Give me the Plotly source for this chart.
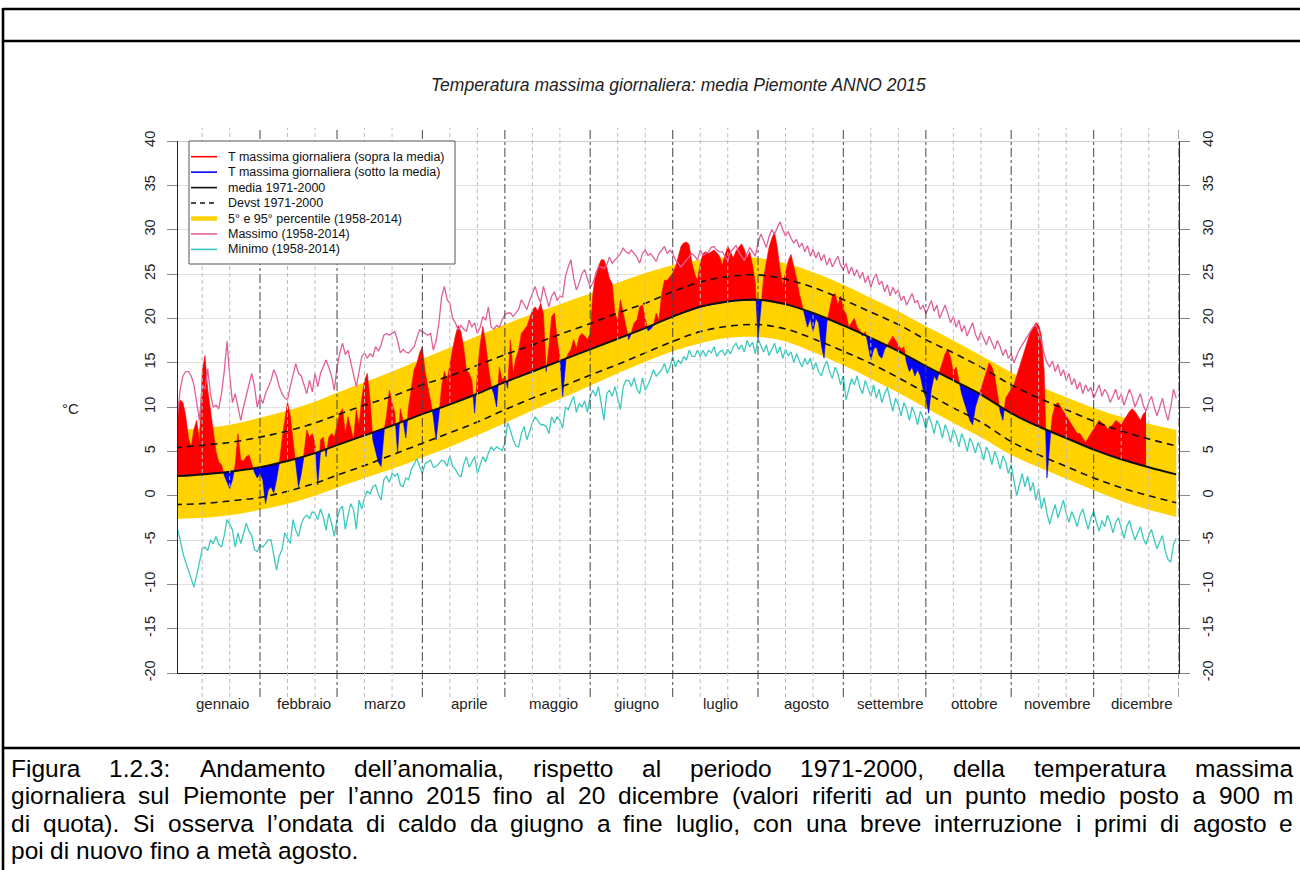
import numpy as np
import plotly.graph_objects as go

# ---------------------------------------------------------------
# Temperatura massima giornaliera, media Piemonte, anno 2015
# ---------------------------------------------------------------

# osservato 2015 (1 gennaio - 20 dicembre), un valore al giorno
tmax_2015 = [
    # gennaio
    8.0, 10.0, 10.8, 10.5, 9.0, 6.5, 5.5, 7.5, 8.5, 6.0, 14.0, 15.8, 12.0, 9.5, 7.0, 5.0,
    3.8, 3.5, 2.3, 1.5, 0.8, 1.8, 3.5, 7.0, 4.0, 3.9, 4.4, 4.6, 3.6, 2.6, 2.0,
    # febbraio
    2.5, 1.8, -0.9, 0.6, 1.0, 0.3, 1.8, 3.6, 6.3, 8.5, 10.6, 9.0, 6.0, 3.6, 1.0, 2.5,
    4.8, 7.4, 6.6, 7.0, 5.9, 1.2, 6.3, 6.6, 4.4, 6.6, 7.0, 6.6,
    # marzo
    7.8, 9.3, 9.8, 7.0, 8.9, 7.5, 6.3, 9.7, 8.0, 11.0, 13.0, 13.8, 10.8, 6.3, 5.0, 3.8,
    3.3, 7.2, 9.0, 11.9, 10.5, 9.3, 4.8, 9.8, 8.5, 6.5, 10.0, 12.0, 14.2, 14.9, 16.1,
    # aprile
    16.8, 14.0, 12.3, 10.8, 8.9, 6.3, 9.0, 12.3, 14.0, 13.0, 15.0, 16.5, 18.0, 19.2, 18.5,
    16.8, 14.2, 13.8, 13.0, 9.3, 13.8, 17.0, 19.1, 17.2, 14.5, 12.3, 11.5, 10.0, 14.5, 13.0,
    # maggio
    13.5, 12.1, 17.6, 13.8, 15.5, 16.4, 18.3, 18.7, 19.1, 20.0, 20.9, 21.3, 20.8, 21.7, 20.5,
    14.0, 16.8, 20.2, 20.6, 17.6, 15.5, 11.2, 15.3, 16.0, 16.5, 17.6, 16.6, 17.9, 18.3, 18.0, 17.6,
    # giugno
    18.3, 22.8, 25.1, 25.8, 26.6, 26.6, 25.8, 24.5, 23.9, 20.5, 19.8, 22.1, 20.5, 19.1, 17.6,
    18.5, 19.5, 19.8, 21.3, 21.5, 19.8, 18.6, 18.8, 19.2, 20.6, 19.8, 22.8, 24.3, 24.3, 24.7,
    # luglio
    25.1, 25.8, 27.0, 28.1, 28.5, 28.6, 28.3, 26.2, 25.0, 24.3, 26.2, 27.3, 27.5, 27.3, 27.5,
    27.7, 27.4, 27.0, 26.0, 27.2, 28.2, 27.5, 26.8, 27.6, 28.0, 28.4, 27.8, 26.8, 27.5, 26.0, 24.0,
    # agosto
    17.6, 21.0, 24.5, 26.5, 28.0, 29.0, 29.7, 28.0, 25.5, 23.8, 25.0, 26.5, 27.2, 26.0, 24.5,
    22.8, 21.5, 20.3, 19.0, 20.0, 18.5, 20.0, 19.5, 17.0, 15.5, 19.5, 21.0, 22.5, 22.8, 21.5, 22.5,
    # settembre
    21.0, 20.5, 19.0, 19.5, 20.0, 19.0, 18.6, 18.0, 18.5, 17.0, 15.3, 16.5, 16.8, 15.8, 15.5,
    16.5, 17.0, 17.5, 18.0, 17.5, 17.0, 16.5, 16.8, 15.0, 14.0, 14.5, 13.5, 14.2, 13.5, 12.0,
    # ottobre
    11.0, 9.3, 12.0, 13.5, 13.0, 14.0, 15.0, 16.0, 16.5, 15.5, 14.0, 14.5, 13.0, 11.5, 10.5,
    9.5, 8.5, 8.0, 10.0, 11.0, 12.0, 13.0, 14.0, 15.0, 14.5, 13.5, 11.5, 9.5, 8.5, 11.0, 11.5,
    # novembre
    12.0, 12.5, 13.5, 14.5, 15.5, 16.5, 17.5, 18.5, 19.0, 19.5, 19.3, 18.0, 14.0, 2.0, 6.0,
    9.0, 10.2, 10.5, 10.0, 9.5, 9.0, 8.5, 8.0, 7.5, 7.0, 7.0, 6.5, 6.0, 6.5, 7.0,
    # dicembre (fino al 20)
    7.5, 8.0, 8.5, 8.2, 8.0, 7.5, 7.8, 8.0, 8.5, 8.2, 8.0, 8.5, 9.0, 9.5, 9.8, 9.5, 9.0, 8.5, 9.2, 9.5,
]

# massimo giornaliero del periodo 1958-2014
tmax_record = [
    7.5, 9.0, 12.0, 13.5, 14.0, 14.0, 13.5, 12.5, 10.5, 8.5, 12.5, 12.0, 14.3, 11.5, 10.0, 10.2,
    9.8, 11.5, 14.0, 17.4, 13.5, 10.5, 11.5, 10.0, 8.5, 10.0, 11.2, 12.5, 13.8, 12.3, 10.0,
    11.2, 10.4, 11.5, 12.3, 13.0, 14.2, 13.5, 12.3, 11.5, 11.0, 10.8, 12.3, 13.8, 14.9, 13.8, 13.5,
    12.5, 11.5, 13.0, 11.7, 13.8, 12.3, 13.8, 14.5, 15.3, 14.5, 13.5, 11.9,
    14.5, 16.1, 17.2, 15.9, 16.4, 15.0, 13.5, 12.3, 14.0, 15.7, 16.1, 15.5, 16.0, 15.7, 16.8, 16.3,
    17.0, 18.1, 18.3, 18.1, 18.3, 18.5, 17.5, 16.1, 16.5, 16.2, 16.1, 16.5, 16.8, 17.8, 18.7,
    18.5, 18.3, 18.1, 18.3, 16.4, 17.5, 19.4, 22.4, 23.6, 22.1, 21.7, 20.0, 19.5, 18.7, 19.2,
    18.8, 18.5, 19.8, 19.0, 19.5, 18.3, 19.0, 20.2, 19.8, 21.3, 19.0, 18.8, 19.2, 19.0, 19.8,
    20.4, 20.6, 20.6, 20.2, 20.6, 21.0, 22.1, 21.5, 21.0, 22.0, 22.8, 23.6, 22.5, 21.8, 23.6,
    22.5, 21.3, 22.5, 23.0, 22.0, 22.5, 22.4, 24.7, 25.8, 26.6, 24.5, 23.2, 24.0, 25.0, 25.5, 24.5,
    23.5, 24.0, 25.0, 25.8, 25.8, 25.6, 26.0, 26.9, 26.2, 26.6, 27.0, 27.3, 27.9, 27.5, 27.3,
    27.7, 27.3, 26.9, 26.2, 27.3, 27.7, 27.1, 27.3, 26.9, 26.4, 27.3, 27.7, 28.1, 27.3, 27.7,
    27.3, 26.6, 26.2, 25.8, 26.2, 26.6, 27.0, 27.3, 27.0, 26.6, 27.7, 27.1, 27.3, 27.5, 28.0,
    28.1, 27.7, 27.5, 27.5, 27.0, 26.5, 27.5, 27.8, 28.2, 27.5, 27.0, 26.5, 27.3, 28.0, 27.5, 27.0,
    28.5, 29.5, 28.8, 28.0, 29.2, 30.0, 29.5, 30.2, 30.9, 30.0, 29.3, 29.8, 29.0, 28.5, 28.9,
    28.0, 28.5, 27.5, 28.2, 27.0, 27.8, 26.8, 27.5, 26.5, 27.2, 26.0, 26.8, 25.8, 26.5, 27.0, 26.0,
    25.5, 26.2, 25.0, 25.8, 24.8, 25.5, 24.5, 25.2, 24.0, 24.8, 23.5, 24.5, 25.0, 23.8, 24.2,
    23.0, 23.8, 22.5, 23.5, 22.8, 23.2, 22.0, 22.5, 21.5, 22.2, 22.8, 21.8, 22.0, 21.0, 21.5,
    20.5, 21.2, 22.0, 20.8, 21.5, 20.0, 20.8, 21.5, 20.5, 19.5, 20.2, 19.0, 19.8, 18.5, 19.2,
    18.0, 18.8, 19.5, 18.2, 17.5, 18.5, 17.8, 17.0, 18.0, 17.2, 16.5, 17.5, 16.8, 15.8, 16.5, 15.5,
    16.0, 15.0, 15.8, 16.5, 17.0, 17.5, 18.0, 18.5, 19.0, 19.3, 18.5, 17.5, 16.0, 15.0, 14.5,
    15.2, 14.0, 14.8, 13.5, 14.2, 13.0, 13.8, 12.5, 13.2, 12.0, 12.8, 11.5, 12.5, 11.8, 12.2,
    11.0, 11.8, 12.5, 11.2, 12.0, 11.5, 10.5, 11.2, 12.0, 10.8, 11.5, 10.2, 11.0, 12.0, 11.2,
    10.0, 10.8, 11.5, 10.2, 9.5, 10.5, 11.2, 10.0, 9.0, 10.0, 11.0, 9.5, 8.5, 10.0, 12.0, 11.0,
]

# minimo giornaliero del periodo 1958-2014
tmax_lowest = [
    -3.0, -3.8, -5.0, -6.5, -7.5, -8.5, -9.5, -10.3, -9.0, -7.5, -6.0, -5.8, -6.2, -5.0, -5.4, -4.6,
    -5.5, -5.8, -4.5, -2.7, -3.2, -3.9, -5.8, -4.2, -5.4, -4.3, -3.1, -4.0, -4.5, -6.1, -6.3,
    -5.6, -5.8, -5.4, -5.0, -5.0, -6.5, -8.4, -6.8, -6.1, -4.2, -4.8, -5.4, -2.7, -3.9, -4.6, -3.2,
    -2.5, -2.2, -2.6, -1.8, -2.0, -2.7, -1.5, -2.4, -3.9, -2.0, -3.1, -4.6,
    -2.7, -1.5, -1.2, -3.8, -2.2, -0.9, -1.6, -3.8, -0.5, -1.5, -0.2, 0.5, 0.2, 1.0, 1.2, 0.2,
    -0.5, 1.8, 2.2, 1.5, 2.5, 2.2, 2.5, 1.2, 1.0, 2.0, 1.8, 3.0, 3.5, 4.2, 3.3,
    2.5, 3.6, 3.8, 4.0, 3.2, 3.3, 3.6, 4.0, 3.9, 3.3, 4.5, 3.3, 3.0, 2.4, 2.1,
    3.5, 4.4, 3.2, 3.8, 4.4, 2.5, 3.6, 4.4, 3.8, 4.8, 5.5, 5.1, 5.5, 5.3, 5.1,
    5.9, 8.2, 7.4, 6.3, 5.6, 5.5, 7.0, 7.8, 6.3, 7.4, 8.2, 8.9, 8.5, 8.0, 8.0,
    7.8, 7.0, 8.9, 8.2, 8.9, 8.5, 7.6, 10.0, 9.7, 10.5, 11.2, 9.4, 10.4, 10.0, 10.7, 9.4,
    11.2, 11.9, 11.2, 12.3, 10.5, 8.5, 11.5, 11.9, 11.2, 12.3, 11.0, 9.7, 12.3, 13.0, 13.0,
    12.3, 13.3, 12.0, 11.5, 13.3, 11.9, 12.5, 13.3, 14.2, 13.5, 13.8, 14.2, 14.9, 13.8, 14.5,
    15.7, 14.5, 15.3, 14.9, 15.7, 15.3, 16.4, 15.7, 15.7, 16.4, 15.7, 16.4, 15.7, 16.4, 16.1,
    16.8, 15.7, 16.2, 16.4, 15.8, 16.5, 16.0, 16.8, 17.2, 16.5, 17.0, 16.2, 17.5, 16.8, 17.3, 16.0,
    17.7, 17.0, 16.2, 17.0, 15.8, 16.5, 17.2, 16.0, 16.8, 15.5, 16.5, 15.8, 16.2, 15.0, 16.0,
    15.2, 14.5, 15.5, 14.8, 15.5, 14.2, 15.0, 14.0, 13.5, 14.5, 15.2, 14.0, 13.2, 14.5, 13.8, 12.5,
    13.5, 10.8, 12.0, 13.2, 12.5, 13.5, 12.2, 11.5, 13.0, 12.0, 11.2, 12.5, 11.0, 12.0, 10.5,
    11.5, 12.2, 10.8, 9.5, 11.0, 10.2, 9.0, 10.5, 9.8, 8.5, 10.0, 9.2, 8.0, 9.5, 8.8,
    7.5, 9.0, 8.2, 7.0, 8.5, 7.8, 6.5, 8.0, 7.2, 6.0, 7.5, 6.8, 5.5, 7.0, 6.2,
    5.0, 6.5, 5.8, 4.8, 6.0, 5.2, 4.0, 5.5, 4.8, 3.5, 5.0, 4.2, 3.0, 4.5, 3.8, 2.5,
    3.5, 1.5, 0.0, 1.2, 2.5, 1.0, 2.2, 0.5, 1.5, -0.5, 0.8, -1.5, -0.2, -2.0, -3.2,
    -2.0, -1.0, -2.5, -1.5, -0.5, -2.0, -3.0, -1.8, -2.5, -3.5, -2.2, -1.5, -2.8, -3.8, -2.5,
    -1.8, -3.0, -4.0, -2.8, -3.5, -2.2, -3.0, -4.2, -3.0, -2.5, -3.8, -4.8, -3.5, -2.8, -4.0,
    -5.0, -4.2, -3.5, -4.8, -5.5, -4.5, -3.8, -5.0, -6.0, -5.2, -4.5, -6.2, -7.2, -7.5, -5.5, -4.8,
]

# climatologia: giorni dell'anno (1, 11, 21 di ogni mese e 31 dicembre)
clim_days = [1, 11, 21, 32, 42, 52, 60, 70, 80, 91, 101, 111, 121, 131, 141, 152, 162, 172,
             182, 192, 202, 213, 223, 233, 244, 254, 264, 274, 284, 294, 305, 315, 325,
             335, 345, 355, 365]
# media 1971-2000
clim_mean = [2.2, 2.4, 2.7, 3.2, 3.9, 4.8, 5.7, 6.8, 7.9, 9.2, 10.3, 11.5, 12.8, 14.0, 15.2,
             16.5, 17.7, 18.9, 20.2, 21.3, 21.9, 22.1, 21.6, 20.6, 19.2, 17.8, 16.3, 14.6,
             13.0, 11.4, 9.3, 7.8, 6.5, 5.2, 4.1, 3.2, 2.4]
# deviazione standard 1971-2000
clim_devst = [3.2, 3.3, 3.3, 3.4, 3.4, 3.4, 3.4, 3.4, 3.3, 3.3, 3.2, 3.2, 3.1, 3.0, 3.0,
              2.9, 2.9, 2.8, 2.8, 2.8, 2.8, 2.8, 2.8, 2.9, 2.9, 2.9, 3.0, 3.0, 3.1, 3.1,
              3.2, 3.2, 3.2, 3.2, 3.2, 3.2, 3.2]
# 95 e 5 percentile 1958-2014
clim_p95 = [7.4, 7.6, 8.0, 8.8, 9.6, 10.6, 11.6, 12.8, 14.0, 15.4, 16.7, 18.0, 19.3, 20.5,
            21.6, 22.8, 24.0, 25.1, 26.0, 26.6, 26.9, 26.8, 26.2, 25.2, 23.8, 22.3, 20.8,
            19.1, 17.5, 15.8, 13.9, 12.4, 11.1, 9.9, 8.9, 8.1, 7.4]
clim_p5 = [-2.6, -2.5, -2.2, -1.6, -0.9, 0.0, 0.9, 2.0, 3.0, 4.3, 5.5, 6.8, 8.2, 9.6, 10.9,
           12.4, 13.8, 15.1, 16.3, 17.2, 17.8, 17.9, 17.4, 16.2, 14.7, 13.2, 11.6, 9.9,
           8.2, 6.6, 4.6, 3.2, 1.9, 0.6, -0.6, -1.6, -2.4]

months = ["gennaio", "febbraio", "marzo", "aprile", "maggio", "giugno", "luglio",
          "agosto", "settembre", "ottobre", "novembre", "dicembre"]
month_start = [1, 32, 60, 91, 121, 152, 182, 213, 244, 274, 305, 335, 366]
y_ticks = [-20, -15, -10, -5, 0, 5, 10, 15, 20, 25, 30, 35, 40]

title = "Temperatura massima giornaliera: media Piemonte ANNO 2015"
caption_lines = [
    "Figura 1.2.3: Andamento dell\u2019anomalia, rispetto al periodo 1971-2000, della temperatura massima",
    "giornaliera sul Piemonte per l\u2019anno 2015 fino al 20 dicembre (valori riferiti ad un punto medio posto a 900 m",
    "di quota). Si osserva l\u2019ondata di caldo da giugno a fine luglio, con una breve interruzione i primi di agosto e",
    "poi di nuovo fino a met\u00e0 agosto.",
]

# ---------------------------------------------------------------
FONT = "Liberation Sans, Arial, Helvetica, sans-serif"
RED, BLUE, GOLD = "#ff0000", "#0000ff", "#ffd200"
PINK, CYAN = "#e0609a", "#3cc9c0"

W, H = 1300, 870
PL, PR, PT, PB = 178, 1179, 141, 673   # plot area in page pixels


def xp(px):
    return (px - PL) / (PR - PL)


def yp(py):
    return (PB - py) / (PB - PT)


days_all = np.arange(1, len(tmax_record) + 1)
days_obs = np.arange(1, len(tmax_2015) + 1)
obs = np.array(tmax_2015)
mean_obs = np.interp(days_obs, clim_days, clim_mean)

# add the crossing points so red / blue areas meet on the mean line
xs, ys, ms = [], [], []
for i in range(len(days_obs)):
    if i > 0:
        a0 = obs[i - 1] - mean_obs[i - 1]
        a1 = obs[i] - mean_obs[i]
        if a0 * a1 < 0:
            t = a0 / (a0 - a1)
            mc = mean_obs[i - 1] + t * (mean_obs[i] - mean_obs[i - 1])
            xs.append(days_obs[i - 1] + t)
            ys.append(mc)
            ms.append(mc)
    xs.append(days_obs[i])
    ys.append(obs[i])
    ms.append(mean_obs[i])
xs, ys, ms = np.array(xs), np.array(ys), np.array(ms)
above = np.maximum(ys, ms)
below = np.minimum(ys, ms)

mean_arr = np.array(clim_mean)
devst_arr = np.array(clim_devst)

fig = go.Figure()
nolab = dict(showlegend=False, hoverinfo="skip")

# 5-95 percentile band
fig.add_trace(go.Scatter(x=clim_days, y=clim_p5, mode="lines", line=dict(width=0, color=GOLD, shape="spline"), **nolab))
fig.add_trace(go.Scatter(x=clim_days, y=clim_p95, mode="lines", line=dict(width=0, color=GOLD, shape="spline"),
                         fill="tonexty", fillcolor=GOLD, **nolab))
# anomalies above / below the mean
fig.add_trace(go.Scatter(x=xs, y=ms, mode="lines", line=dict(width=0, color=RED), **nolab))
fig.add_trace(go.Scatter(x=xs, y=above, mode="lines", line=dict(width=0.6, color=RED),
                         fill="tonexty", fillcolor=RED, **nolab))
fig.add_trace(go.Scatter(x=xs, y=ms, mode="lines", line=dict(width=0, color=BLUE), **nolab))
fig.add_trace(go.Scatter(x=xs, y=below, mode="lines", line=dict(width=0.6, color=BLUE),
                         fill="tonexty", fillcolor=BLUE, **nolab))
# mean +/- devst
for band in (mean_arr + devst_arr, mean_arr - devst_arr):
    fig.add_trace(go.Scatter(x=clim_days, y=band, mode="lines",
                             line=dict(color="#111111", width=1.6, dash="7px,5px", shape="spline"), **nolab))
# mean
fig.add_trace(go.Scatter(x=clim_days, y=clim_mean, mode="lines",
                         line=dict(color="#111111", width=2, shape="spline"), **nolab))
# record max / min
fig.add_trace(go.Scatter(x=days_all, y=tmax_record, mode="lines", line=dict(color=PINK, width=1.3), **nolab))
fig.add_trace(go.Scatter(x=days_all, y=tmax_lowest, mode="lines", line=dict(color=CYAN, width=1.3), **nolab))
# right-hand axis carrier
fig.add_trace(go.Scatter(x=[None], y=[None], yaxis="y2", **nolab))

shapes = []
# month boundaries and 10-day marks
for k in range(12):
    s = month_start[k]
    for d in (s + 10, s + 20):
        shapes.append(dict(type="line", xref="x", yref="paper", x0=d, x1=d, y0=yp(697), y1=yp(128),
                           line=dict(color="#bdbdbd", width=1, dash="4px,3px"), layer="above"))
for s in month_start[1:]:
    shapes.append(dict(type="line", xref="x", yref="paper", x0=s, x1=s, y0=yp(697), y1=yp(128),
                       line=dict(color="#444444", width=1, dash="dashdot"), layer="above"))
# top line at 40
shapes.append(dict(type="line", xref="paper", yref="y", x0=0, x1=1, y0=40, y1=40,
                   line=dict(color="#999999", width=1.2), layer="above"))

# legend
leg_items = [
    ("T massima giornaliera (sopra la media)", RED, 1.6, "solid"),
    ("T massima giornaliera (sotto la media)", BLUE, 1.6, "solid"),
    ("media 1971-2000", "#111111", 1.6, "solid"),
    ("Devst 1971-2000", "#111111", 1.6, "5px,4px"),
    ("5\u00b0 e 95\u00b0 percentile (1958-2014)", GOLD, 4.5, "solid"),
    ("Massimo (1958-2014)", PINK, 1.6, "solid"),
    ("Minimo (1958-2014)", CYAN, 1.6, "solid"),
]
shapes.append(dict(type="rect", xref="paper", yref="paper", x0=xp(189), x1=xp(455), y0=yp(264), y1=yp(141),
                   fillcolor="white", line=dict(color="#555555", width=1), layer="above"))
annotations = []
for i, (lab, col, lw, dash) in enumerate(leg_items):
    yy = 156.7 + i * 15.45
    shapes.append(dict(type="line", xref="paper", yref="paper", x0=xp(191), x1=xp(217), y0=yp(yy), y1=yp(yy),
                       line=dict(color=col, width=lw, dash=dash), layer="above"))
    annotations.append(dict(xref="paper", yref="paper", x=xp(226), y=yp(yy), text=lab, showarrow=False,
                            xanchor="left", yanchor="middle", font=dict(family=FONT, size=12.5, color="#111111")))

# page frame
frame = "#000000"
for (x0, y0, x1, y1) in [(3, 9, 1300, 9), (3, 41, 1300, 41), (3, 748, 1300, 748), (3, 8, 3, 870)]:
    shapes.append(dict(type="line", xref="paper", yref="paper", x0=xp(x0), x1=xp(x1), y0=yp(y0), y1=yp(y1),
                       line=dict(color=frame, width=2.6), layer="above"))

# title, unit, month names
annotations.append(dict(xref="paper", yref="paper", x=xp(678), y=yp(85), text="<i>" + title + "</i>",
                        showarrow=False, xanchor="center", yanchor="middle",
                        font=dict(family=FONT, size=17.5, color="#222222")))
annotations.append(dict(xref="paper", yref="paper", x=xp(70), y=yp(408), text="\u00b0C", showarrow=False,
                        xanchor="center", yanchor="middle", font=dict(family=FONT, size=15, color="#222222")))
for k, name in enumerate(months):
    mid = (month_start[k] + month_start[k + 1]) / 2 + 2
    annotations.append(dict(xref="x", yref="paper", x=mid, y=yp(703), text=name, showarrow=False,
                            xanchor="center", yanchor="middle", font=dict(family=FONT, size=15, color="#222222")))

# caption, justified word by word with Arial advance widths
ADV = {" ": 278, ".": 278, ",": 278, ":": 278, "-": 333, "(": 333, ")": 333, "\u2019": 222,
       "A": 667, "F": 611, "P": 667, "S": 667, "a": 556, "b": 556, "c": 500, "d": 556, "e": 556,
       "f": 278, "g": 556, "h": 556, "i": 222, "l": 222, "m": 833, "n": 556, "o": 556, "p": 556,
       "q": 556, "r": 333, "s": 500, "t": 278, "u": 556, "v": 500, "z": 500, "\u00e0": 556}
CAP_SIZE = 24.5
CAP_LEFT, CAP_RIGHT = 10, 1292
cap_y = [768, 795.5, 823, 850.5]


def tw(s):
    return sum(ADV.get(c, 556) for c in s) * CAP_SIZE / 1000.0


for li, line in enumerate(caption_lines):
    words = line.split(" ")
    if li < len(caption_lines) - 1:
        gap = (CAP_RIGHT - CAP_LEFT - sum(tw(w) for w in words)) / (len(words) - 1)
        gap = max(gap, tw(" "))
    else:
        gap = tw(" ")
    x = CAP_LEFT
    for w in words:
        annotations.append(dict(xref="paper", yref="paper", x=xp(x), y=yp(cap_y[li]), text=w,
                                showarrow=False, xanchor="left", yanchor="middle", borderpad=0,
                                font=dict(family=FONT, size=CAP_SIZE, color="#000000")))
        x += tw(w) + gap

yaxis_common = dict(range=[-20, 40], tickmode="array", tickvals=y_ticks, ticktext=[str(v) for v in y_ticks],
                    tickangle=-90, ticks="outside", ticklen=10, tickwidth=1, tickcolor="#888888",
                    showline=True, linecolor="#222222", linewidth=1, zeroline=False,
                    tickfont=dict(family=FONT, size=14.5, color="#222222"), ticklabelstandoff=6)

fig.update_layout(
    width=W, height=H,
    margin=dict(l=PL, r=W - PR, t=PT, b=H - PB, autoexpand=False),
    paper_bgcolor="white", plot_bgcolor="white",
    showlegend=False,
    xaxis=dict(range=[2.2, 366], showticklabels=False, ticks="", showgrid=False, zeroline=False,
               showline=True, linecolor="#222222", linewidth=1),
    yaxis=dict(showgrid=True, gridcolor="#e2e2e2", gridwidth=1, side="left", **yaxis_common),
    yaxis2=dict(overlaying="y", side="right", showgrid=False, **yaxis_common),
    shapes=shapes,
    annotations=annotations,
)

fig.write_html("out.html")
